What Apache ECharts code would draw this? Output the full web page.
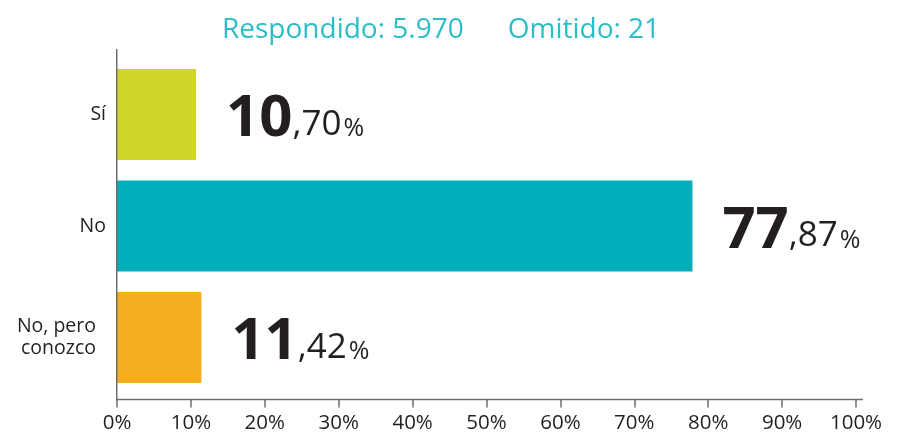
<!DOCTYPE html>
<html>
<head>
<meta charset="utf-8">
<title>Respondido / Omitido</title>
<script src="https://cdn.jsdelivr.net/npm/echarts@6/dist/echarts.min.js"></script>
<style>
    html, body { margin: 0; padding: 0; background: #fff; }
    #myChart { width: 899px; height: 434px; }
</style>
</head>
<body>
<div id="myChart"></div>
<script>
    // datos del gráfico
    const categories = ['Sí', 'No', 'No, pero\nconozco'];
    const values = [10.70, 77.87, 11.42];
    const barColors = ['#d0d627', '#00aebb', '#f6ae1f'];
    const headerTexts = ['Respondido: 5.970', 'Omitido: 21'];
    const tickMax = 100;
    const tickStep = 10;

    const font = '"Open Sans", "Noto Sans", sans-serif';
    const dark = '#231f20';
    const axisGrey = '#6e6e6e';

    let myChart = echarts.init(document.getElementById('myChart'));

    // grid: 0% en x=117, 100% en x=856
    const gridLeft = 117, gridRight = 43, gridTop = 58.75, gridBottom = 40.75;
    const axisY = 399.5;

    let option = {
        animation: false,
        title: {
            left: 217,
            top: 11,
            text: '{a|' + headerTexts[0] + '}{gap|}{a|' + headerTexts[1] + '}',
            textStyle: {
                fontWeight: 'normal',
                rich: {
                    a: { fontFamily: font, fontSize: 28, fontWeight: 'normal', color: '#2bbec8' },
                    gap: { width: 44 }
                }
            }
        },
        grid: { left: gridLeft, right: gridRight, top: gridTop, bottom: gridBottom },
        xAxis: {
            type: 'value',
            min: 0,
            max: tickMax,
            interval: tickStep,
            offset: axisY - (434 - gridBottom),
            axisLine: { show: false },
            axisTick: { show: true, length: 8, lineStyle: { color: axisGrey, width: 1.5 } },
            splitLine: { show: false },
            axisLabel: {
                formatter: '{value}%',
                fontFamily: font,
                fontSize: 20.5,
                color: dark,
                margin: 13
            }
        },
        yAxis: {
            type: 'category',
            inverse: true,
            data: categories,
            axisLine: { show: false },
            axisTick: { show: false },
            axisLabel: {
                fontFamily: font,
                fontSize: 19.5,
                lineHeight: 22,
                color: dark,
                margin: 11,
                formatter: function (v) {
                    return v.indexOf('\n') >= 0 ? '{p|' + v.split('\n').join('}\n{p|') + '}' : v;
                },
                rich: {
                    p: { fontFamily: font, fontSize: 19.5, lineHeight: 22, color: dark, padding: [0, 10, 0, 0] }
                }
            }
        },
        graphic: [
            {
                type: 'line',
                shape: { x1: gridLeft - 0.25, y1: 49, x2: gridLeft - 0.25, y2: axisY },
                style: { stroke: axisGrey, lineWidth: 1.5 },
                z: 10
            },
            {
                type: 'line',
                shape: { x1: gridLeft - 1, y1: axisY, x2: 863, y2: axisY },
                style: { stroke: axisGrey, lineWidth: 1.5 },
                z: 10
            }
        ],
        series: [
            {
                type: 'bar',
                barWidth: 91,
                data: values.map(function (v, i) {
                    return { value: v, itemStyle: { color: barColors[i] } };
                }),
                label: {
                    show: true,
                    position: 'right',
                    distance: 30,
                    offset: [0, 4],
                    formatter: function (p) {
                        let parts = p.value.toFixed(2).split('.');
                        return '{big|' + parts[0] + '}{dec|,' + parts[1] + '}{pct|%}';
                    },
                    rich: {
                        big: { fontFamily: font, fontSize: 58, fontWeight: 'bold', color: dark, lineHeight: 60, verticalAlign: 'bottom' },
                        dec: { fontFamily: font, fontSize: 35, color: dark, verticalAlign: 'bottom', padding: [0, 0, 6, 0] },
                        pct: { fontFamily: font, fontSize: 25, color: dark, verticalAlign: 'bottom', padding: [0, 0, 7, 2] }
                    }
                }
            }
        ]
    };
    myChart.setOption(option);
</script>
</body>
</html>
